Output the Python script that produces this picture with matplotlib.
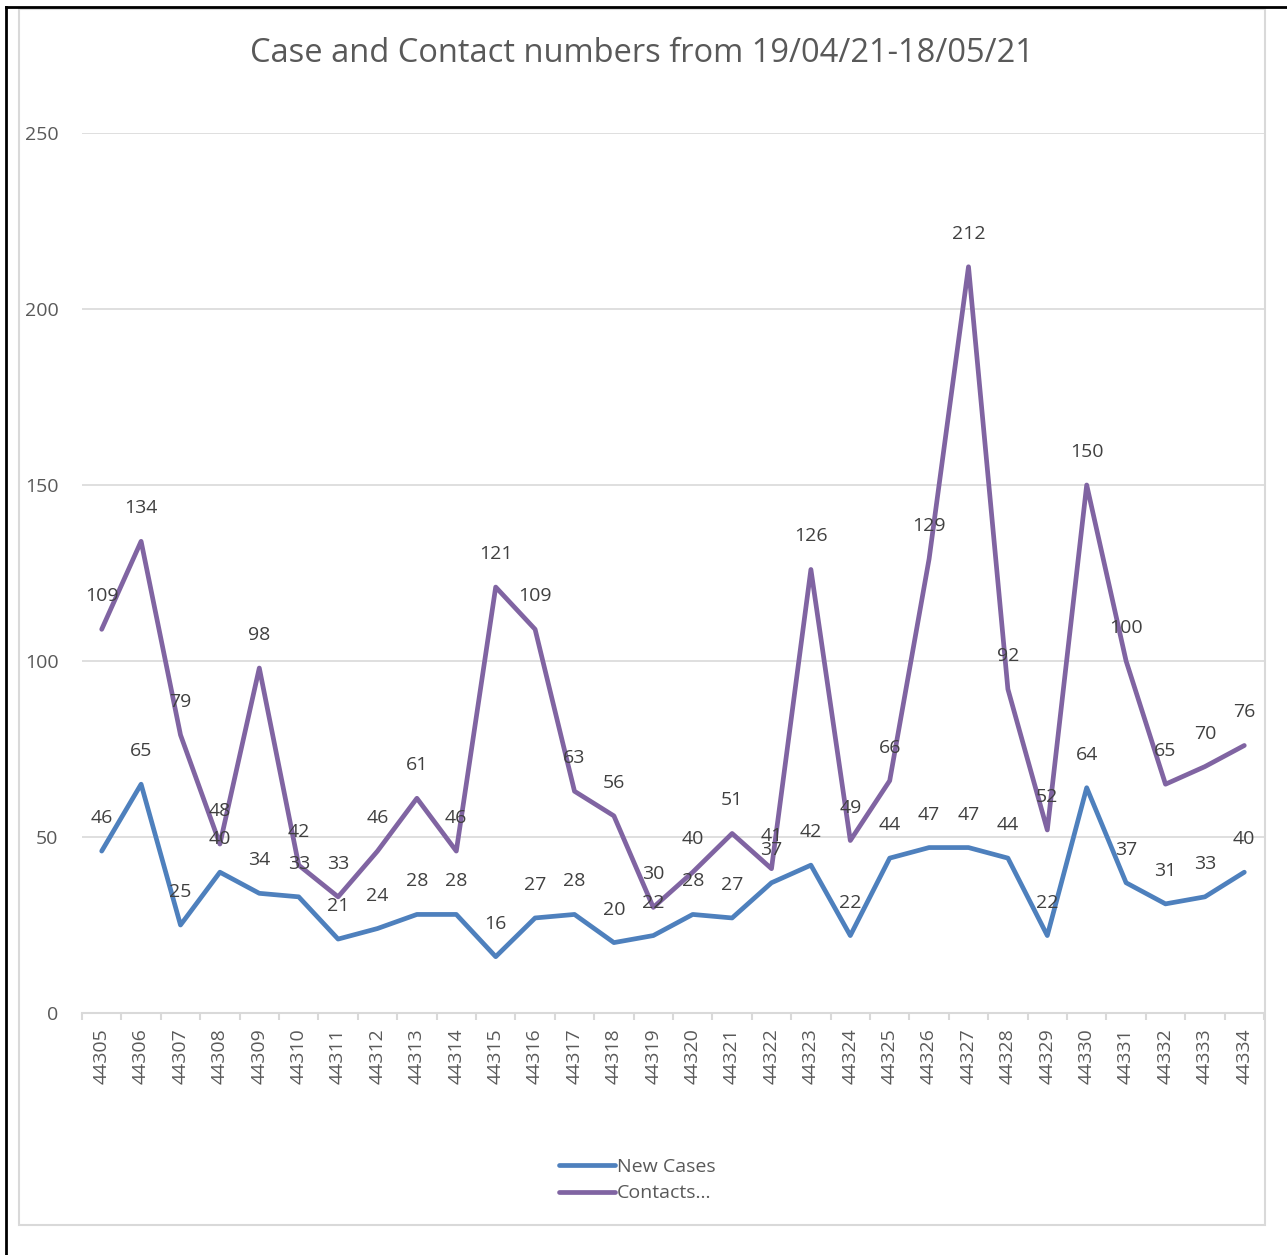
import matplotlib.pyplot as plt
from matplotlib.lines import Line2D
from matplotlib.patches import Rectangle
import numpy as np

plt.rcParams['font.family'] = ['Open Sans', 'DejaVu Sans']

dates = [44305, 44306, 44307, 44308, 44309, 44310, 44311, 44312, 44313, 44314,
         44315, 44316, 44317, 44318, 44319, 44320, 44321, 44322, 44323, 44324,
         44325, 44326, 44327, 44328, 44329, 44330, 44331, 44332, 44333, 44334]
new_cases = [46, 65, 25, 40, 34, 33, 21, 24, 28, 28, 16, 27, 28, 20, 22,
             28, 27, 37, 42, 22, 44, 47, 47, 44, 22, 64, 37, 31, 33, 40]
contacts = [109, 134, 79, 48, 98, 42, 33, 46, 61, 46, 121, 109, 63, 56, 30,
            40, 51, 41, 126, 49, 66, 129, 212, 92, 52, 150, 100, 65, 70, 76]

W, H = 1287, 1255
fig = plt.figure(figsize=(W / 100, H / 100), dpi=100)
ax = fig.add_axes([82 / W, 1 - 1013 / H, (1264 - 82) / W, (1013 - 133) / H])

x = np.arange(len(dates))
blue = '#4E80BD'
purple = '#8064A2'
l1, = ax.plot(x, new_cases, color=blue, lw=3.4, solid_joinstyle='round',
              solid_capstyle='round', label='New Cases', zorder=3)
l2, = ax.plot(x, contacts, color=purple, lw=3.4, solid_joinstyle='round',
              solid_capstyle='round', label='Contacts...', zorder=3)

# data labels above each point
for xi, v in zip(x, new_cases):
    ax.annotate(str(v), (xi, v), xytext=(0, 33), textcoords='offset pixels',
                ha='center', va='center', fontsize=14, color='#404040', zorder=4)
for xi, v in zip(x, contacts):
    ax.annotate(str(v), (xi, v), xytext=(0, 33), textcoords='offset pixels',
                ha='center', va='center', fontsize=14, color='#404040', zorder=4)

ax.set_xlim(-0.5, len(dates) - 0.5)
ax.set_ylim(0, 250)
ax.set_yticks([0, 50, 100, 150, 200, 250])
ax.grid(axis='y', color='#D9D9D9', lw=1.2)
ax.set_axisbelow(True)
for s in ['top', 'right', 'left']:
    ax.spines[s].set_visible(False)
ax.spines['bottom'].set_color('#D9D9D9')
ax.spines['bottom'].set_linewidth(1.5)

ax.set_xticks(x)
ax.set_xticklabels([str(d) for d in dates], rotation=90, fontsize=14,
                   color='#595959')
ax.set_xticks(np.arange(len(dates) + 1) - 0.5, minor=True)
ax.tick_params(axis='x', which='major', length=0, pad=11)
ax.tick_params(axis='x', which='minor', length=5, width=1.5, color='#D9D9D9')
ax.tick_params(axis='y', length=0, pad=17, labelsize=14, labelcolor='#595959')

fig.text(642 / W, 1 - 54 / H, 'Case and Contact numbers from 19/04/21-18/05/21',
         ha='center', va='center', fontsize=23.5, color='#595959')

fig.legend(handles=[l1, l2], loc='center', bbox_to_anchor=(637 / W, 1 - 1180 / H),
           frameon=False, fontsize=14, labelcolor='#595959', handlelength=2.9,
           handletextpad=0.1, labelspacing=0.45)

# chart frame and outer borders
fig.add_artist(Rectangle((19 / W, 1 - 1225 / H), (1265 - 19) / W, (1225 - 9) / H,
                         transform=fig.transFigure, fill=False,
                         edgecolor='#D9D9D9', lw=1.5))
fig.add_artist(Line2D([6 / W, 6 / W], [0, 1 - 7 / H], transform=fig.transFigure,
                      color='black', lw=2))
fig.add_artist(Line2D([6 / W, 1], [1 - 7 / H, 1 - 7 / H],
                      transform=fig.transFigure, color='black', lw=2))

fig.savefig('out.png', dpi=100)
